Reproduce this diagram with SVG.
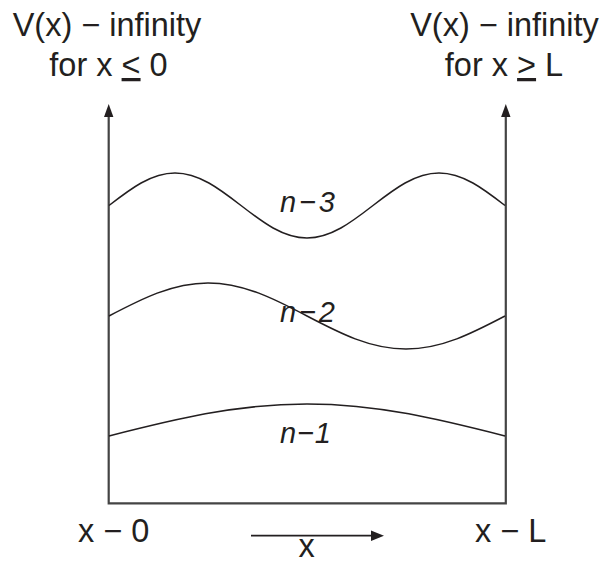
<svg xmlns="http://www.w3.org/2000/svg" width="602" height="565" viewBox="0 0 602 565">
<style>
.t{font-family:"Liberation Sans",Arial,sans-serif;font-size:32.5px;fill:#231f20}
.n{font-family:"Liberation Sans",Arial,sans-serif;font-size:29px;font-style:italic;fill:#231f20}
.wall{fill:none;stroke:#444;stroke-width:2.2}
.wave{fill:none;stroke:#231f20;stroke-width:1.5}
.ah{fill:#231f20}
</style>
<rect width="602" height="565" fill="#fff"/>
<g id="label-left">
<text class="t" x="107" y="36" text-anchor="middle">V(x) − infinity</text>
<text class="t" x="108.5" y="76" text-anchor="middle">for x <tspan text-decoration="underline">&lt;</tspan> 0</text>
</g>
<g id="label-right">
<text class="t" x="504.5" y="36" text-anchor="middle">V(x) − infinity</text>
<text class="t" x="504" y="76" text-anchor="middle">for x <tspan text-decoration="underline">&gt;</tspan> L</text>
</g>
<g id="well">
<path class="wall" d="M108.7,114 V503.3 H505.8 V114"/>
</g>
<g id="connectors">
<polygon class="ah" points="108.7,104 104,117 113.4,117"/>
<polygon class="ah" points="505.8,104 501.1,117 510.5,117"/>
<line x1="251" y1="535.7" x2="373" y2="535.7" stroke="#231f20" stroke-width="1.8"/>
<polygon class="ah" points="384,535.7 371,530.5 371,541"/>
</g>
<g id="wave-n3">
<path class="wave" d="M109,205.5 C130.5,188.85 151.1,173 175,173 C198.9,173 219.5,188.85 241,205.5 C262.5,222.15 283.1,238 307,238 C330.9,238 351.5,222.15 373,205.5 C394.5,188.85 415.1,173 439,173 C462.9,173 483.5,188.85 505,205.5"/>
<text class="n" x="280" y="212" textLength="55" lengthAdjust="spacing">n−3</text>
</g>
<g id="wave-n2">
<path class="wave" d="M109,316 C141.3,299.1 172.2,283 208,283 C243.8,283 274.7,299.1 307,316 C339.3,332.9 370.2,349 406,349 C441.8,349 472.7,332.9 505,316"/>
<text class="n" x="280" y="322" textLength="55" lengthAdjust="spacing">n−2</text>
</g>
<g id="wave-n1">
<path class="wave" d="M109,436 C173.6,419.6 235.3,404 307,404 C378.7,404 440.4,419.6 505,436"/>
<text class="n" x="280" y="442.5" textLength="51" lengthAdjust="spacing">n−1</text>
</g>
<g id="axis-labels">
<text class="t" x="78" y="542">x − 0</text>
<text class="t" x="475" y="542">x − L</text>
<text class="t" x="306.5" y="557" text-anchor="middle">x</text>
</g>
</svg>
